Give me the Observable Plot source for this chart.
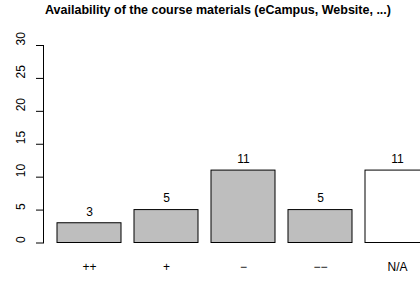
<!DOCTYPE html>
<html><head><meta charset="utf-8">
<script src="https://cdn.jsdelivr.net/npm/d3@7"></script>
<script src="https://cdn.jsdelivr.net/npm/@observablehq/plot@0.6"></script>
<style>
html,body{margin:0;padding:0;background:#fff;overflow:hidden;font-family:"Liberation Sans",Arial,sans-serif;}
#title{height:20px;line-height:21px;font-weight:bold;font-size:12.5px;text-align:center;padding-left:16px;width:404px;color:#000;white-space:nowrap;}
#chart svg{overflow:hidden;display:block;}
</style></head><body>
<div id="title">Availability of the course materials (eCampus, Website, ...)</div>
<div id="chart"></div>
<script>
const categories = ["++", "+", "\u2212", "\u2212\u2212", "N/A"];
const counts = [3, 5, 11, 5, 11];
const yTicks = [0, 5, 10, 15, 20, 25, 30];

const data = categories.map((c, i) => ({category: c, count: counts[i]}));

const chart = Plot.plot({
  width: 420,
  height: 261,
  marginLeft: 43,
  marginRight: 0,
  marginTop: 25,
  marginBottom: 38.5,
  style: {fontFamily: "'Liberation Sans', Arial, sans-serif", fontSize: "12px", background: "white", color: "black", overflow: "hidden"},
  x: {domain: categories, range: [50.9, 435.9], paddingInner: 0.1667, paddingOuter: 0.0833},
  y: {domain: [0, 30]},
  marks: [
    Plot.barY(data, {x: "category", y: "count", fill: d => d.category === "N/A" ? "white" : "#bebebe", stroke: "black", strokeWidth: 1}),
    Plot.text(data, {x: "category", y: "count", text: d => String(d.count), dy: -11.5, fill: "black"}),
    Plot.axisX({tickSize: 0, tickPadding: 19, label: null}),
    Plot.axisY({ticks: yTicks, tickSize: 7, tickFormat: () => "", label: null}),
    Plot.text(yTicks, {y: d => d, text: d => String(d), frameAnchor: "left", rotate: -90, dx: -22, fill: "black"}),
    Plot.frame({anchor: "left", stroke: "black"})
  ]
});
document.getElementById("chart").appendChild(chart);
</script>
</body></html>
